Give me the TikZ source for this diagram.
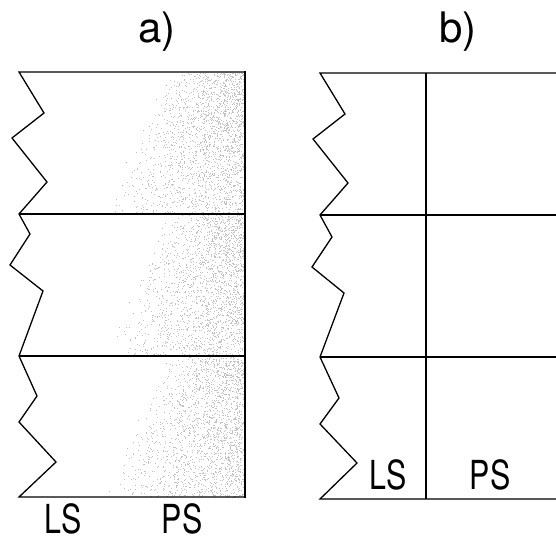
\documentclass[tikz,border=0pt]{standalone}
\usepackage{fontspec}
\setmainfont{TeX Gyre Heros}
\begin{document}
\begin{tikzpicture}[x=1pt,y=-1pt,
  outline/.style={line width=1.3pt,line join=miter},
  thick line/.style={line width=2pt},
  dotfill/.style={fill=black!24},
  lbl/.style={font=\fontsize{40}{42}\selectfont,anchor=base,inner sep=0pt,xscale=0.76},
  ttl/.style={font=\fontsize{42}{44}\selectfont,anchor=base,inner sep=0pt}]
\useasboundingbox (0,0) rectangle (556,542);
% stipple shading of panel a
\pgfmathsetseed{7}
\foreach \ya/\yb in {72/214,214/356,356/497}{
  \foreach \i in {1,...,2000}{
    \pgfmathsetmacro\vv{rnd}
    \pgfmathsetmacro\yy{\ya+\vv*(\yb-\ya)}
    \pgfmathsetmacro\ww{78+65*\vv}
    \pgfmathsetmacro\xx{244-\ww*(1-sqrt(rnd))}
    \fill[dotfill] (\xx,\yy) rectangle ++(0.8,0.8);
  }
}
% panel a
\draw[outline] (245,72) -- (19,72) -- (44,113) -- (12,138) -- (47,182) -- (19,214)
  -- (30,234) -- (10,265) -- (43,291) -- (19,356)
  -- (37,396) -- (19,422) -- (56,462) -- (19,497) -- (245,497);
\draw[outline] (19,214) -- (245,214);
\draw[outline] (19,356) -- (245,356);
\draw[thick line] (245,71) -- (245,498);
% panel b
\draw[outline] (556,73) -- (320,73) -- (345,114) -- (313,139) -- (348,183) -- (320,215)
  -- (332,237) -- (312,267) -- (344,293) -- (320,357)
  -- (339,398) -- (320,424) -- (357,463) -- (320,499) -- (556,499);
\draw[outline] (320,215) -- (556,215);
\draw[outline] (320,357) -- (556,357);
\draw[thick line] (426,73) -- (426,499);
% labels
\node[ttl] (ta) at (157,42) {a)};
\node[ttl] (tb) at (458,42) {b)};
\node[lbl] (lsa) at (63,533) {LS};
\node[lbl] (psa) at (182,533) {PS};
\node[lbl] (lsb) at (388,489) {LS};
\node[lbl] (psb) at (490,489) {PS};
\end{tikzpicture}
\end{document}
